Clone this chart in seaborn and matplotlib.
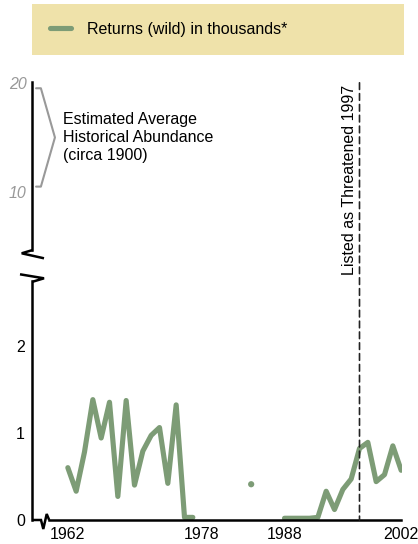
import matplotlib
matplotlib.use("Agg")
import numpy as np
import pandas as pd
import matplotlib.pyplot as plt
import seaborn as sns
from matplotlib.lines import Line2D
from matplotlib.patches import ConnectionPatch

# data (thousands of wild returns)
years = list(range(1962, 2003))
returns = [0.60, 0.33, 0.78, 1.38, 0.94, 1.35, 0.27, 1.37, 0.40, 0.79,   # 1962-1971
           0.97, 1.06, 0.42, 1.32, 0.03, 0.03,                           # 1972-1977
           None, None, None, None, None, None,                           # 1978-1983
           0.41,                                                         # 1984
           None, None, None,                                             # 1985-1987
           0.02, 0.02, 0.02, 0.02, 0.03, 0.33, 0.12, 0.35, 0.47, 0.82,   # 1988-1997
           0.89, 0.44, 0.52, 0.85, 0.57]                                 # 1998-2002
xtick_years = [1962, 1978, 1988, 2002]
lower_ticks = [0, 1, 2]
upper_ticks = [10, 20]
historic_span = [10.5, 19.5]
listed_year = 1997

GREEN = "#7d9c76"
LEGEND_BG = "#efe2aa"
GREY = "#999999"

sns.set_style("white")
plt.rcParams["font.family"] = ["Liberation Sans", "DejaVu Sans"]
plt.rcParams["font.size"] = 11.5
plt.rcParams["text.color"] = "black"
plt.rcParams["xtick.color"] = "black"
plt.rcParams["ytick.color"] = "black"

W, H = 418, 544
fig = plt.figure(figsize=(W / 100, H / 100), dpi=100)


def px(x, y):
    # reference pixel -> figure fraction
    return x / W, 1 - y / H


ax_up = fig.add_axes([32 / W, 1 - 250 / H, 370 / W, (250 - 81.7) / H])
ax_lo = fig.add_axes([32 / W, 1 - 520 / H, 370 / W, (520 - 281) / H])

df = pd.DataFrame({"year": years, "returns": returns}, dtype=float)
df["seg"] = df["returns"].isna().cumsum()
obs = df.dropna().copy()
seg_size = obs.groupby("seg")["year"].transform("size")

sns.lineplot(data=obs, x="year", y="returns", units="seg", estimator=None,
             color=GREEN, lw=3.7, ax=ax_lo, legend=False,
             solid_capstyle="round", solid_joinstyle="round")
sns.scatterplot(data=obs[seg_size == 1], x="year", y="returns", color=GREEN,
                s=20, edgecolor="none", ax=ax_lo, legend=False)

for ax in (ax_up, ax_lo):
    ax.set_xlim(1957.7, 2002.1)
    ax.set_facecolor("none")
    ax.set_xlabel("")
    ax.set_ylabel("")
    for s in ("top", "right"):
        ax.spines[s].set_visible(False)
    ax.spines["left"].set_linewidth(1.8)
    ax.spines["left"].set_color("black")

# upper panel: historical scale
ax_up.set_ylim(4.7, 20.1)
ax_up.spines["bottom"].set_visible(False)
ax_up.set_xticks([])
ax_up.set_yticks(upper_ticks)
ax_up.set_yticklabels([str(t) for t in upper_ticks], color=GREY, style="italic")
ax_up.tick_params(axis="y", length=0, pad=4)

# lower panel
ax_lo.set_ylim(0, 2.74)
ax_lo.set_yticks(lower_ticks)
ax_lo.tick_params(axis="y", length=0, pad=5)
ax_lo.set_xticks(xtick_years)
ax_lo.set_xticklabels([str(y) for y in xtick_years])
ax_lo.tick_params(axis="x", direction="in", length=7.5, width=1.5, pad=5)
for t in ax_lo.xaxis.get_major_ticks()[1:3]:
    t.tick1line.set_visible(False)
ax_lo.spines["bottom"].set_linewidth(1.8)
ax_lo.spines["bottom"].set_color("black")
ax_lo.spines["bottom"].set_bounds(1959.74, 2002)

# axis breaks
breaks = [
    [(32.7, 250), (21.7, 253.3), (44, 258.3)],
    [(20, 274.3), (44, 278.3), (32.7, 281.7)],
    [(32, 520), (41, 520), (43.3, 529), (46.7, 514), (49.2, 520)],
]
for pts in breaks:
    xs, ys = zip(*[px(*p) for p in pts])
    fig.add_artist(Line2D(xs, ys, color="black", lw=1.8, transform=fig.transFigure,
                          solid_joinstyle="miter", solid_capstyle="butt"))

# historical abundance bracket
tr = ax_up.get_yaxis_transform()
lo_h, hi_h = historic_span
mid_h = (lo_h + hi_h) / 2
ax_up.plot([0.011, 0.024, 0.062, 0.024, 0.011], [hi_h, hi_h, mid_h, lo_h, lo_h],
           color=GREY, lw=1.5, transform=tr, clip_on=False)
ax_up.text(0.084, mid_h, "Estimated Average\nHistorical Abundance\n(circa 1900)",
           transform=tr, ha="left", va="center", linespacing=1.25)

# listing line
con = ConnectionPatch(xyA=(listed_year, 20.0), coordsA=ax_up.transData,
                      xyB=(listed_year, 0), coordsB=ax_lo.transData,
                      color="#222222", lw=1.2, linestyle=(0, (4, 2.5)))
fig.add_artist(con)
ax_up.annotate("Listed as Threatened %d" % listed_year, xy=(listed_year, 19.85),
               xytext=(-1.5, 0), textcoords="offset points",
               rotation=90, ha="right", va="top")

# legend banner
handle = Line2D([], [], color=GREEN, lw=3.7, solid_capstyle="round")
x0, y0 = px(32, 52.5)
fig.legend([handle], ["Returns (wild) in thousands*"], loc="upper left",
           bbox_to_anchor=(x0, y0, 372 / W, 48.5 / H), mode="expand",
           borderaxespad=0, borderpad=1.12, handlelength=1.35, handletextpad=0.95,
           frameon=True, fancybox=False, facecolor=LEGEND_BG, edgecolor="none",
           framealpha=1)

fig.savefig("out.png", dpi=100)
